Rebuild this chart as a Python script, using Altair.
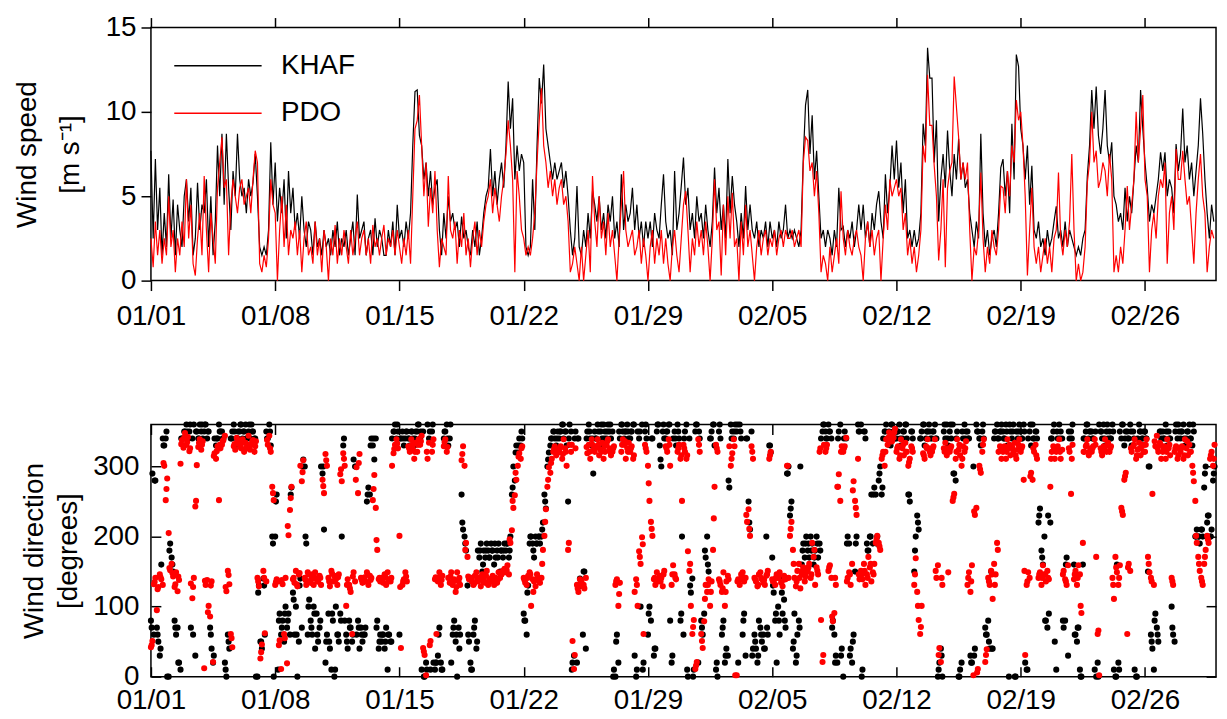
import altair as alt
import pandas as pd

# ---------------- data ----------------
# wind speed, 8 readings per day (m/s), 2012-01-01 .. 2012-02-29
khaf_speed_days = [
 [7.7,2.5,7.2,3.0,5.5,1.5,4.0,2.0],[6.3,2.5,4.8,1.5,4.5,3.0,2.0,5.0],[6.0,3.5,5.5,1.5,2.5,5.8,3.0,4.5],
 [4.0,6.0,2.0,5.0,1.5,3.5,8.0,5.0],[8.7,4.5,8.7,5.5,3.0,6.5,5.0,8.7],[6.0,5.0,5.5,4.0,6.0,5.0,5.8,7.5],
 [5.0,2.0,1.5,2.0,1.5,3.0,8.2,4.5],[7.0,3.5,5.5,4.0,6.0,2.5,6.5,4.0],[5.5,3.0,4.0,2.5,5.0,3.0,2.0,3.5],
 [3.0,1.5,3.5,2.0,2.5,1.5,3.0,2.0],[2.5,1.5,3.0,2.0,3.5,1.5,2.5,2.0],[3.0,1.5,2.5,3.5,1.5,5.1,2.5,3.0],
 [3.5,1.5,2.5,3.0,1.5,3.7,2.0,3.0],[2.5,1.5,1.5,3.0,2.0,3.5,1.5,4.5],[2.5,3.0,2.0,3.5,2.5,4.0,8.0,11.2],
 [11.3,8.6,8.0,6.0,7.0,5.0,6.5,4.5],[5.5,6.0,3.0,1.5,4.0,2.5,5.0,3.5],[4.0,3.0,3.5,2.0,3.8,2.5,3.0,2.0],
 [1.5,3.0,2.0,3.5,1.5,2.5,4.0,5.0],[5.5,7.8,5.0,6.5,4.5,6.0,7.0,5.5],[8.0,11.8,9.0,10.8,6.0,8.0,6.5,7.5],
 [7.0,2.0,1.5,2.0,6.0,3.0,8.0,12.0],[10.5,12.8,9.0,8.0,7.0,6.0,7.0,6.0],[6.5,7.0,5.5,6.5,5.0,3.0,1.5,2.5],
 [5.6,2.0,1.5,3.0,2.0,4.0,2.5,5.3],[4.5,3.5,5.0,3.0,4.0,2.5,4.5,3.5],[5.0,2.5,3.5,2.0,6.3,3.0,4.5,3.5],
 [4.0,5.5,3.0,4.5,2.5,3.5,2.0,3.5],[2.5,3.5,2.0,4.0,3.0,2.5,4.5,6.3],[3.5,2.5,3.0,1.5,6.5,3.0,4.0,5.6],
 [7.3,4.5,5.5,3.0,4.0,2.5,5.0,3.5],[4.0,2.5,4.5,3.0,2.0,3.5,6.7,4.0],[5.5,3.0,4.5,2.5,7.2,4.0,6.2,4.5],
 [3.5,2.0,4.0,2.5,5.6,3.0,4.5,3.0],[2.5,3.5,2.0,3.0,2.5,3.5,2.0,3.5],[2.5,3.0,2.0,3.5,2.5,3.0,4.5,2.5],
 [3.0,2.5,3.0,2.5,2.0,3.0,7.3,10.4],[11.3,7.5,9.8,6.0,7.7,5.0,2.5,3.0],[2.0,3.0,2.5,1.5,3.0,2.0,5.5,3.0],
 [3.2,2.0,3.0,2.5,3.5,2.0,3.0,4.5],[3.0,4.5,2.5,3.5,2.0,4.0,3.0,4.5],[5.3,3.5,2.5,6.3,4.0,5.5,8.0,6.0],
 [8.3,5.5,7.0,4.0,6.0,2.5,3.0,2.0],[3.0,2.0,2.5,4.0,9.3,8.0,13.8,12.0],[12.0,7.0,9.5,3.5,6.0,7.5,5.5,8.9],
 [6.5,5.0,7.5,6.0,8.4,6.0,7.0,5.5],[6.0,4.0,3.0,2.0,3.5,2.5,8.7,4.0],[2.0,3.0,1.5,2.5,3.0,2.0,4.0,6.7],
 [7.2,5.0,6.5,4.0,9.3,6.0,13.4,12.7],[9.0,8.0,6.0,8.0,4.5,6.8,3.0,2.5],[3.5,2.0,2.5,1.5,3.0,2.0,2.5,3.5],
 [4.4,2.5,3.0,2.0,3.5,2.0,3.0,2.5],[2.0,1.5,2.0,1.5,2.5,3.0,6.2,8.0],[11.3,9.0,11.5,8.6,7.5,9.0,11.3,8.0],
 [7.0,8.2,5.0,4.5,3.5,4.0,3.0,5.5],[3.5,5.0,4.0,6.0,8.0,7.0,11.3,9.0],[7.0,5.5,3.5,4.5,4.0,5.0,6.0,7.6],
 [6.5,7.6,5.0,6.0,5.5,4.0,8.1,6.5],[7.5,10.2,7.0,8.0,6.0,7.0,5.0,6.5],[8.0,10.8,8.7,6.0,4.0,2.5,4.5,3.5],
]
pdo_speed_days = [
 [2.5,0.8,3.5,1.5,3.0,1.0,2.5,1.5],[5.0,2.0,3.0,0.5,2.5,1.5,3.5,2.0],[6.0,2.5,4.5,1.0,0.3,2.5,4.0,1.5],
 [6.2,3.0,0.5,4.0,2.5,1.0,5.5,7.0],[8.5,5.5,6.0,1.5,4.5,6.0,5.0,4.0],[5.5,6.0,4.5,5.0,5.5,4.0,6.0,7.7],
 [7.0,1.0,0.5,1.5,0.8,2.5,6.0,4.5],[4.0,0.0,3.0,5.0,2.0,4.5,1.5,3.0],[2.5,3.5,1.5,3.0,0.5,2.5,3.5,1.5],
 [2.0,1.0,3.5,1.5,2.5,0.5,3.0,2.0],[0.0,2.5,1.5,3.3,1.0,2.5,1.5,3.0],[2.0,1.0,3.0,1.5,2.5,3.5,1.5,2.5],
 [3.0,1.5,2.5,1.0,3.3,2.0,2.5,1.5],[2.5,3.3,1.5,2.5,2.0,3.0,1.5,3.0],[2.0,1.0,2.5,1.5,3.0,1.0,5.0,9.0],
 [9.5,11.0,8.0,5.0,7.0,3.2,5.5,4.0],[6.5,3.0,0.8,2.5,2.0,1.5,6.2,3.0],[2.5,3.5,1.0,3.0,2.0,4.0,1.5,2.5],
 [0.8,2.5,3.5,1.5,3.0,2.0,3.5,4.5],[5.0,6.0,4.0,5.5,4.5,3.5,5.0,6.0],[7.5,9.5,8.0,6.0,0.5,6.5,5.0,3.0],
 [2.5,1.5,2.0,1.5,2.5,4.0,7.0,9.5],[11.4,8.0,7.0,5.5,6.5,5.0,6.0,4.5],[5.5,6.0,4.5,5.0,3.5,0.5,1.0,2.0],
 [1.0,0.0,2.0,0.0,1.5,3.0,0.5,6.2],[3.5,2.0,5.0,2.5,3.5,1.5,4.0,2.0],[3.0,1.5,0.0,2.5,4.5,6.5,3.0,2.0],
 [2.5,3.0,1.5,2.0,3.0,1.0,2.5,1.5],[0.0,2.0,3.0,1.0,2.5,1.5,3.0,1.0],[2.5,1.0,0.0,2.0,3.0,1.5,0.5,2.5],
 [4.5,5.3,3.0,0.5,2.5,1.5,3.5,2.0],[3.0,1.5,3.5,2.0,0.0,2.5,6.0,3.0],[3.5,0.3,4.5,1.5,5.0,2.5,5.2,2.0],
 [2.5,0.0,3.5,1.5,4.5,2.0,3.0,1.5],[0.0,2.0,3.0,1.5,2.5,3.0,1.5,2.5],[2.0,3.0,1.5,2.5,3.0,2.0,3.0,2.5],
 [2.5,3.0,2.0,2.5,3.0,2.0,7.0,8.5],[8.3,6.5,7.0,5.0,6.5,4.0,0.5,1.5],[1.0,0.0,2.0,0.5,1.5,2.5,1.0,5.3],
 [2.5,1.5,3.0,2.0,1.5,2.5,3.0,2.0],[1.5,0.0,2.5,3.5,2.0,3.0,1.5,2.5],[3.0,0.0,2.5,4.5,3.0,6.0,5.0,5.5],
 [6.0,5.0,5.5,3.0,4.0,1.5,2.5,1.0],[2.0,0.5,1.5,3.0,8.0,7.0,12.2,9.2],[9.2,6.8,5.0,1.2,3.0,6.0,0.8,5.5],
 [6.5,7.0,12.1,10.3,8.5,6.0,7.0,6.0],[7.0,3.0,0.0,2.0,1.5,3.0,6.4,2.5],[0.5,2.0,1.0,3.0,2.0,1.5,3.0,5.6],
 [5.5,4.0,6.5,5.0,8.0,7.0,10.7,9.5],[10.0,8.0,5.0,0.3,3.0,5.5,2.0,1.0],[2.0,0.5,1.5,2.5,1.0,2.0,0.5,2.5],
 [3.0,6.4,2.5,1.5,3.0,2.0,3.5,7.5],[3.0,0.0,1.0,0.0,0.5,2.0,5.8,7.0],[10.0,7.0,7.7,5.5,6.0,7.0,6.5,5.0],
 [7.5,6.0,0.5,1.5,0.5,2.0,1.0,3.0],[5.6,3.0,4.5,6.0,10.0,7.0,9.0,11.0],[6.0,5.0,0.5,3.0,4.0,2.5,5.0,6.0],
 [5.5,7.0,1.0,4.0,5.0,3.0,7.8,6.0],[6.0,7.7,6.0,4.5,5.0,3.0,1.0,4.0],[6.0,7.5,5.0,4.0,0.5,2.0,3.0,2.5],
]

# wind direction, 12 readings per day at even hours (degrees)
khaf_dir_days = [
 [80,290,60,280,70,50,30,160,340,330,340,0],[0,190,170,150,80,60,70,20,10,340,340,350],
 [360,340,350,70,340,360,30,350,340,360,350,340],[350,360,340,350,70,40,20,340,330,340,360,350],
 [350,340,20,0,60,40,340,350,360,330,340,350],[350,360,340,350,360,340,350,340,360,350,340,0],
 [0,130,50,40,140,60,350,340,360,330,200,0],[200,260,10,90,60,80,50,100,70,90,60,270],
 [120,60,100,0,50,140,70,310,300,190,60,110],[80,60,100,40,90,50,70,300,290,210,20,60],
 [90,40,10,80,0,100,60,50,90,200,330,80],[60,40,80,70,50,310,300,60,80,40,70,50],
 [60,70,250,270,260,340,330,310,340,80,40,60],[50,60,40,70,10,60,50,340,350,360,340,350],
 [60,340,350,330,340,350,340,330,350,340,330,350],[350,360,340,10,350,0,20,360,340,10,350,20],
 [10,20,30,70,20,10,340,350,360,330,340,20],[60,80,50,0,70,60,260,210,200,180,130,50],
 [20,10,60,80,40,180,170,190,150,180,170,190],[180,170,190,180,160,170,180,190,150,180,170,190],
 [180,190,170,200,260,300,280,330,320,340,330,340],[90,80,60,130,190,200,190,170,200,190,200,190],
 [200,220,260,240,300,320,330,340,350,340,330,350],[340,350,360,340,350,330,250,360,350,20,30,350],
 [20,340,140,130,60,150,40,350,360,340,330,290],[350,340,360,330,350,340,360,350,340,360,350,340],
 [350,10,0,60,20,340,360,350,340,350,360,340],[340,350,360,30,0,350,340,100,360,20,350,340],
 [60,100,80,340,30,40,350,360,330,300,350,340],[340,350,360,80,20,340,350,330,360,340,80,200],
 [60,350,360,0,340,120,140,10,350,360,20,340],[80,60,90,170,200,150,340,350,360,330,10,0],
 [350,340,60,80,20,40,30,270,360,350,340,360],[350,20,360,340,60,90,30,340,250,210,350,40],
 [60,40,20,80,70,50,60,40,200,60,330,320],[170,120,80,20,100,60,140,90,110,70,290,300],
 [230,250,40,90,20,60,80,300,160,190,170,200],[180,170,200,190,160,180,200,170,190,340,350,360],
 [350,340,360,350,340,80,60,30,20,350,360,40],[0,350,340,200,190,40,20,60,150,200,360,350],
 [360,10,350,340,190,180,200,260,190,270,260,200],[280,300,260,340,350,360,340,350,330,360,350,340],
 [340,350,360,330,340,350,360,340,260,250,350,340],[150,200,230,210,340,350,360,330,340,350,360,340],
 [340,350,360,340,0,20,40,0,350,340,360,330],[350,340,360,290,280,350,0,10,20,340,360,350],
 [350,340,30,20,300,40,360,350,340,330,350,340],[70,60,80,40,150,40,340,350,360,340,350,360],
 [350,340,360,330,0,350,340,360,0,350,340,360],[350,340,360,20,10,340,350,330,360,340,350,340],
 [220,240,180,160,200,80,70,90,220,340,350,50],[10,340,360,350,340,70,80,170,30,340,350,360],
 [160,60,50,70,10,0,160,340,350,360,340,350],[350,340,10,0,20,360,350,340,360,330,350,340],
 [350,340,360,10,0,160,20,350,340,360,330,350],[350,340,360,330,350,10,0,340,360,350,340,350],
 [350,340,150,300,60,40,10,90,70,50,350,340],[350,340,360,330,350,340,100,60,50,360,340,350],
 [340,350,360,330,340,350,360,340,330,350,200,210],[200,190,210,200,270,300,220,230,200,210,280,300],
]
pdo_dir_days = [
 [42,51,132,141,95,128,146,139,131,301,252,283],[205,152,161,143,128,149,122,138,304,338,327,348],
 [331,342,322,133,112,141,243,302,328,339,324,336],[12,131,138,101,86,136,21,319,311,329,252,326],
 [331,338,344,122,151,132,61,42,329,324,341,334],[331,326,339,321,334,329,344,324,331,338,321,336],
 [141,129,26,46,151,62,136,331,344,321,271,252],[131,139,136,52,11,132,61,141,19,202,238,271],
 [139,134,151,129,146,301,279,309,141,131,149,136],[134,146,131,149,139,136,144,131,281,262,318,301],
 [141,129,151,136,144,139,131,146,289,279,319,301],[101,139,131,121,61,149,136,299,262,318,141,134],
 [139,136,149,131,144,141,252,288,241,181,139,136],[141,134,146,131,149,139,136,301,319,331,339,326],
 [201,41,131,139,149,136,329,321,339,326,311,334],[321,339,331,344,41,31,2,311,334,51,321,339],
 [139,61,136,149,131,144,329,339,321,141,134,149],[131,139,121,149,136,131,309,329,301,191,171,139],
 [139,136,131,144,149,136,141,129,146,139,134,151],[131,139,136,144,131,141,134,149,141,146,151,154],
 [149,159,146,191,209,241,259,281,301,319,311,329],[141,134,131,144,149,101,139,136,129,146,141,134],
 [141,181,201,239,271,299,291,311,321,329,316,324],[321,329,311,339,326,301,181,331,321,51,11,326],
 [131,121,139,136,129,126,141,319,331,311,339,324],[321,329,339,316,324,334,311,321,331,339,326,316],
 [321,329,131,139,101,134,321,339,331,311,326,334],[321,329,311,121,139,101,179,161,199,61,331,321],
 [301,251,221,201,139,131,149,136,144,141,129,151],[329,321,339,301,131,159,146,139,321,331,311,251],
 [331,321,311,179,151,101,61,81,11,21,339,321],[61,41,79,131,121,139,101,136,181,271,331,321],
 [139,131,121,149,101,136,144,329,301,319,339,2],[2,139,131,146,149,136,141,221,239,201,329,311],
 [141,136,129,146,149,139,134,131,144,151,311,321],[139,136,131,146,141,149,134,129,144,139,301,141],
 [201,221,181,141,129,151,161,126,146,156,136,149],[151,161,141,191,171,131,156,146,321,81,21,331],
 [321,331,151,159,141,79,91,131,271,289,251,329],[321,329,341,141,149,131,161,279,251,231,311,139],
 [151,139,161,131,146,171,156,136,149,161,191,201],[191,181,311,321,301,339,331,349,344,336,341,354],
 [321,329,311,339,326,316,334,321,301,311,329,321],[131,169,121,81,61,101,319,311,329,339,326,316],
 [321,329,339,141,159,41,21,131,326,334,316,149],[321,329,251,261,311,339,324,316,301,329,321,336],
 [131,149,121,159,2,231,241,11,301,291,321,339],[21,39,141,131,151,111,161,146,191,321,329,311],
 [321,329,311,339,326,316,329,321,334,311,324,339],[321,329,281,31,131,149,141,291,281,321,331,311],
 [141,149,131,159,146,136,151,139,271,321,329,311],[321,329,339,311,324,151,139,131,159,321,261,331],
 [139,151,131,159,146,91,191,321,329,339,316,326],[321,329,339,171,61,2,326,316,329,339,321,334],
 [321,329,141,111,171,149,131,159,241,231,281,291],[61,161,151,321,329,339,311,324,334,316,329,321],
 [321,339,171,149,141,261,131,329,344,321,334,311],[321,329,311,339,326,316,141,131,321,329,311,326],
 [321,329,311,339,326,316,331,321,301,279,251,191],[171,151,141,131,161,181,201,191,311,321,301,331],
]

# extra direction readings, 6 per day at 01,05,09,13,17,21 h (degrees)
khaf_dir_extra = [
 [70,280,60,40,330,350],[180,160,70,20,340,350],[350,360,60,350,340,360],[360,350,60,30,340,350],
 [340,10,50,340,350,340],[360,350,340,360,350,340],[120,50,130,340,350,190],[250,80,70,90,80,260],
 [110,60,130,300,200,100],[70,90,60,80,300,50],[50,90,10,60,80,340],[50,70,60,300,70,60],
 [60,260,330,340,70,50],[60,50,60,50,350,360],[340,340,350,340,350,340],[360,350,0,10,350,360],
 [20,60,10,350,340,360],[70,60,40,220,190,60],[10,70,50,180,160,180],[170,180,190,170,180,180],
 [190,180,270,320,330,350],[80,120,200,180,190,200],[210,250,310,340,350,340],[350,360,350,340,10,340],
 [340,130,150,340,350,340],[340,350,360,340,350,360],[0,50,350,360,350,350],[350,360,10,350,10,360],
 [90,340,40,360,310,360],[350,360,30,340,350,90],[340,10,130,0,360,350],[70,180,160,340,360,20],
 [360,70,30,280,340,350],[360,350,80,340,220,30],[50,30,60,40,70,330],[130,90,80,120,80,290],
 [240,50,30,70,180,190],[190,180,170,190,180,360],[340,350,70,20,340,30],[340,190,30,50,190,350],
 [0,350,180,200,260,190],[290,270,350,340,360,340],[350,340,350,360,260,350],[180,220,340,360,350,350],
 [350,340,10,30,360,340],[360,290,340,0,350,340],[340,20,30,350,340,360],[60,50,40,350,340,350],
 [340,350,360,350,0,350],[340,350,10,360,340,350],[230,170,80,230,340,360],[350,340,80,160,350,340],
 [60,70,0,340,360,350],[340,350,0,350,340,360],[340,350,0,10,360,340],[340,350,340,0,350,340],
 [340,300,50,80,60,350],[340,350,340,70,350,360],[350,340,350,340,360,200],[200,210,290,230,200,290],
]
pdo_dir_extra = [
 [45,135,125,142,305,268],[155,148,132,143,332,341],[335,326,128,251,334,331],[137,92,130,315,322,331],
 [336,128,145,55,332,338],[328,334,326,331,336,329],[136,35,141,338,326,262],[135,45,138,55,215,255],
 [141,132,148,292,138,146],[139,142,136,141,272,309],[136,147,138,142,296,311],[131,126,143,281,305,138],
 [142,146,138,268,195,141],[138,142,136,141,325,333],[128,136,143,326,331,321],[331,336,36,321,45,331],
 [142,141,138,335,328,143],[136,128,141,318,181,143],[141,133,138,142,136,144],[136,141,139,138,146,149],
 [152,196,251,291,314,326],[138,141,146,121,139,141],[161,221,281,305,325,319],[326,318,321,191,331,31],
 [126,134,131,328,321,331],[326,331,321,329,336,321],[326,136,118,331,336,321],[326,316,131,171,189,326],
 [276,211,141,139,136,146],[326,331,146,141,326,316],[326,316,161,71,16,331],[51,111,131,121,226,326],
 [136,126,121,139,311,329],[136,139,142,231,211,321],[139,131,141,138,146,316],[136,141,144,136,141,301],
 [211,161,136,141,151,143],[156,146,181,151,326,31],[326,156,86,141,271,321],[326,136,146,266,241,146],
 [146,151,141,161,146,196],[186,316,321,341,336,349],[326,316,331,321,306,326],[146,101,71,316,326,321],
 [326,151,31,141,321,326],[326,256,321,331,311,326],[141,136,236,6,296,331],[31,136,146,131,181,326],
 [326,321,331,326,316,331],[326,151,136,286,326,316],[146,141,146,141,311,326],[326,321,146,136,326,311],
 [146,141,101,321,331,321],[326,331,66,321,326,331],[326,131,156,141,236,286],[156,326,331,316,326,331],
 [331,161,136,336,326,331],[326,321,331,136,326,316],[326,316,336,321,291,201],[161,136,171,196,316,311],
]

STATIONS = ["KHAF", "PDO"]
COLORS = ["#000000", "#ff0000"]

# ---------------- build tables ----------------
start = pd.Timestamp("2012-01-01")


def to_rows(days, name, field, first_hour=0.0):
    rows = []
    for d, vals in enumerate(days):
        n = len(vals)
        for k, v in enumerate(vals):
            t = start + pd.Timedelta(hours=d * 24 + first_hour + k * 24.0 / n)
            rows.append({"time": t.strftime("%Y-%m-%dT%H:%M:%S"), field: v, "station": name})
    return rows


speed_df = pd.DataFrame(to_rows(khaf_speed_days, "KHAF", "speed") + to_rows(pdo_speed_days, "PDO", "speed"))
dir_df = pd.DataFrame(
    to_rows(khaf_dir_days, "KHAF", "dir") + to_rows(khaf_dir_extra, "KHAF", "dir", 1.0)
    + to_rows(pdo_dir_days, "PDO", "dir") + to_rows(pdo_dir_extra, "PDO", "dir", 1.0)
)
anchor_df = pd.DataFrame({"time": ["2012-01-01T00:00:00"], "speed": [0], "dir": [0]})

FONT = "Liberation Sans"
FS = 28
W, H1, H2 = 1073, 255, 254

xscale = alt.Scale(domain=[alt.DateTime(year=2012, month=1, date=1),
                           alt.DateTime(year=2012, month=3, date=1)])
tick_days = [(1, 1), (1, 8), (1, 15), (1, 22), (1, 29), (2, 5), (2, 12), (2, 19), (2, 26)]
tick_vals = [alt.DateTime(year=2012, month=m, date=d) for m, d in tick_days]
color_scale = alt.Scale(domain=STATIONS, range=COLORS)

common_ax = dict(domain=False, grid=False, tickColor="black", tickWidth=1.5,
                 labelColor="black", labelFont=FONT, labelFontSize=FS, titleFont=FONT,
                 titleFontSize=FS, titleFontWeight="normal", titleColor="black")

# ---------------- top panel: wind speed ----------------
lines = alt.Chart(speed_df).mark_line(strokeWidth=1.2).encode(
    x=alt.X("time:T", scale=xscale,
            axis=alt.Axis(orient="bottom", values=tick_vals, format="%m/%d", title=None,
                          tickSize=10, labelPadding=12, labelFlush=False, **common_ax)),
    y=alt.Y("speed:Q", scale=alt.Scale(domain=[0, 15], nice=False),
            axis=alt.Axis(values=[0, 5, 10, 15], tickSize=10, labelPadding=5,
                          title=["Wind speed", "[m s\u207b\u00b9]"], titleX=-110,
                          titleLineHeight=43, **common_ax)),
    color=alt.Color("station:N", scale=color_scale,
                    legend=alt.Legend(title=None, orient="none", legendX=49, legendY=20,
                                      symbolType="M-2.5,0H2.5", symbolSize=1239,
                                      symbolStrokeWidth=1.5, labelFont=FONT, labelFontSize=FS,
                                      labelColor="black", labelOffset=45, rowPadding=15)),
)
top_axis = alt.Chart(anchor_df).mark_point(opacity=0).encode(
    x=alt.X("time:T", scale=xscale,
            axis=alt.Axis(orient="top", values=tick_vals, labels=False, title=None,
                          tickSize=10, **common_ax)),
    y=alt.Y("speed:Q"),
)
top = alt.layer(lines, top_axis).resolve_axis(x="independent").properties(width=W, height=H1)

# ---------------- bottom panel: wind direction ----------------
pts = alt.Chart(dir_df).mark_circle(size=38, opacity=1).encode(
    x=alt.X("time:T", scale=xscale,
            axis=alt.Axis(orient="bottom", values=tick_vals, format="%m/%d", title=None,
                          offset=-10, tickSize=10, labelPadding=10, labelFlush=False,
                          **common_ax)),
    y=alt.Y("dir:Q", scale=alt.Scale(domain=[0, 360], nice=False),
            axis=alt.Axis(values=[0, 100, 200, 300], offset=-10, tickSize=10, labelPadding=12,
                          title=["Wind direction", "[degrees]"], titleX=-113,
                          titleLineHeight=34, **common_ax)),
    color=alt.Color("station:N", scale=color_scale, legend=None),
)
frame_axes = alt.Chart(anchor_df).mark_point(opacity=0).encode(
    x=alt.X("time:T", scale=xscale,
            axis=alt.Axis(orient="top", values=tick_vals, labels=False, title=None,
                          offset=-10, tickSize=10, **common_ax)),
    y=alt.Y("dir:Q", scale=alt.Scale(domain=[0, 360], nice=False),
            axis=alt.Axis(orient="right", values=[0, 100, 200, 300], labels=False, title=None,
                          offset=-10, tickSize=10, **common_ax)),
)
bottom = alt.layer(pts, frame_axes).resolve_axis(x="independent", y="independent").properties(
    width=W, height=H2)

chart = alt.vconcat(top, bottom, spacing=90).properties(
    padding={"left": 5, "top": 2, "right": 0, "bottom": 0}
).configure_view(stroke="black", strokeWidth=1.5)

chart.save("out.html", embed_options={"renderer": "svg", "actions": False})
